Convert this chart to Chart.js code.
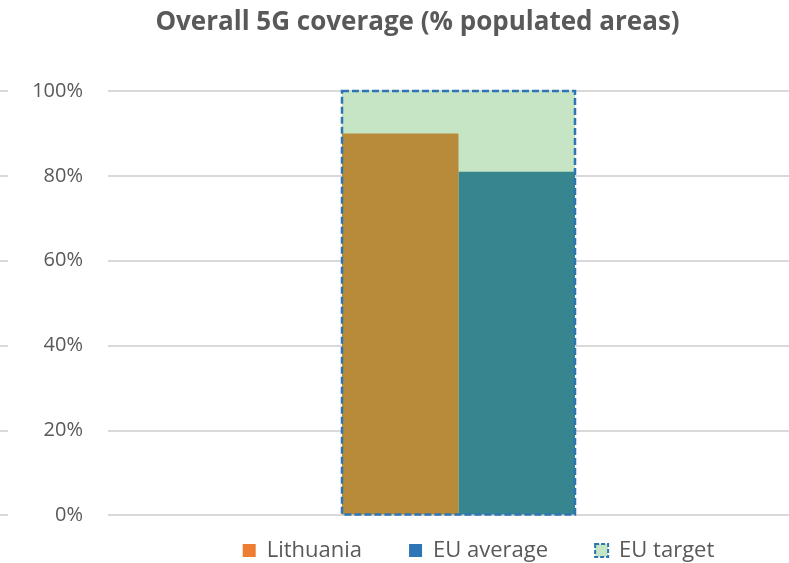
<!DOCTYPE html>
<html>
<head>
<meta charset="utf-8">
<script src="https://cdn.jsdelivr.net/npm/chart.js@4.4.1/dist/chart.umd.min.js"></script>
<style>
  html, body { margin: 0; padding: 0; background: #fff; }
  #chart { display: block; }
</style>
</head>
<body>
<canvas id="chart" width="789" height="563"></canvas>
<script>
// data
var categories = ['Overall 5G coverage'];
var seriesNames = ['Lithuania', 'EU average', 'EU target'];
var lithuania = [90];
var euAverage = [81];
var euTarget = [100];
var yTickStep = 20;

var textColor = '#595959';
var gridColor = '#D9D9D9';
var targetBorder = '#2E75B6';

// shift legend / title boxes after layout (Excel centres them on a wider frame)
var boxShift = {
    id: 'boxShift',
    afterLayout: function (chart) {
        var lg = chart.legend;
        lg.left += 84; lg.right += 84;
        lg.top -= 23; lg.bottom -= 23;
        var t = chart.titleBlock;
        t.left += 23; t.right += 23;
    }
};

// dashed outline of the target bar + the little stubs left of the labels
var extras = {
    id: 'extras',
    beforeDatasetsDraw: function (chart) {
        var c = chart.ctx;
        var y = chart.scales.y;
        c.save();
        c.strokeStyle = gridColor;
        c.lineWidth = 2;
        y.ticks.forEach(function (t) {
            var py = Math.round(y.getPixelForValue(t.value));
            c.beginPath();
            c.moveTo(0, py);
            c.lineTo(8, py);
            c.stroke();
        });
        c.restore();
    },
    afterDatasetsDraw: function (chart) {
        var c = chart.ctx;
        var el = chart.getDatasetMeta(2).data[0];
        if (!el) return;
        var p = el.getProps(['x', 'y', 'base', 'width'], true);
        c.save();
        c.strokeStyle = targetBorder;
        c.lineWidth = 2.5;
        c.setLineDash([7, 3]);
        c.strokeRect(p.x - p.width / 2, p.y, p.width, p.base - p.y);
        c.restore();
    }
};

var legendFill = ['#ED7D31', '#2E75B6', '#C5E5C5'];

var chart = new Chart(document.getElementById('chart').getContext('2d'), {
    type: 'bar',
    data: {
        labels: categories,
        datasets: [
            {
                label: seriesNames[0],
                data: lithuania,
                backgroundColor: '#B88B3A',
                barPercentage: 1,
                categoryPercentage: 0.3525
            },
            {
                label: seriesNames[1],
                data: euAverage,
                backgroundColor: '#37858F',
                barPercentage: 1,
                categoryPercentage: 0.3525
            },
            {
                label: seriesNames[2],
                data: euTarget,
                backgroundColor: '#C5E5C5',
                grouped: false,
                barPercentage: 1,
                categoryPercentage: 0.3525
            }
        ]
    },
    options: {
        responsive: false,
        animation: false,
        layout: { padding: { left: 0, right: 0, top: 0, bottom: -31.4 } },
        plugins: {
            title: {
                display: true,
                text: 'Overall 5G coverage (% populated areas)',
                color: textColor,
                font: { family: 'Open Sans', size: 26, weight: 'bold' },
                padding: { top: 7, bottom: 52.8 }
            },
            legend: {
                position: 'bottom',
                labels: {
                    color: textColor,
                    font: { family: 'Open Sans', size: 22 },
                    boxWidth: 13,
                    boxHeight: 13,
                    padding: 47,
                    generateLabels: function (chart) {
                        return chart.data.datasets.map(function (ds, i) {
                            var item = {
                                text: ds.label,
                                fillStyle: legendFill[i],
                                strokeStyle: legendFill[i],
                                lineWidth: 0,
                                hidden: false,
                                datasetIndex: i,
                                fontColor: textColor
                            };
                            if (i === 2) {
                                item.strokeStyle = targetBorder;
                                item.lineWidth = 2;
                                item.lineDash = [4, 2];
                            }
                            return item;
                        });
                    }
                }
            },
            tooltip: { enabled: false }
        },
        scales: {
            x: { display: false },
            y: {
                min: 0,
                max: 100,
                afterFit: function (scale) { scale.width = 128; },
                border: { display: false },
                grid: { color: gridColor, lineWidth: 2, tickLength: 20 },
                ticks: {
                    stepSize: yTickStep,
                    padding: 25,
                    color: textColor,
                    font: { family: 'Open Sans', size: 20 },
                    callback: function (v) { return v + '%'; }
                }
            }
        }
    },
    plugins: [boxShift, extras]
});
</script>
</body>
</html>
